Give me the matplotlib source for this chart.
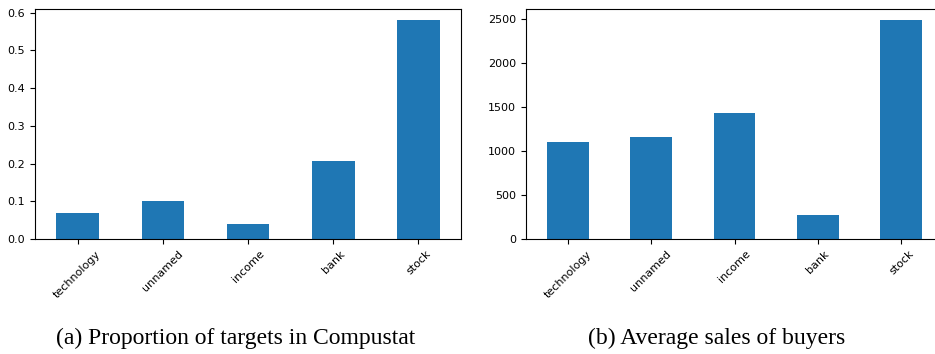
import matplotlib
matplotlib.use("Agg")
import numpy as np
import matplotlib.pyplot as plt

# Data
categories = ["technology", "unnamed", "income", "bank", "stock"]
target_share = [0.069, 0.101, 0.040, 0.207, 0.581]
buyer_sales = [1101, 1157, 1430, 272, 2485]

fig = plt.figure(figsize=(9.35, 3.54), dpi=100)

ax1 = fig.add_axes([35 / 935, 1 - 239 / 354, 426 / 935, 230 / 354])
ax2 = fig.add_axes([526 / 935, 1 - 239 / 354, 417 / 935, 230 / 354])

x = np.arange(len(categories))
for ax, vals in [(ax1, target_share), (ax2, buyer_sales)]:
    ax.bar(x, vals, width=0.5, color="#1f77b4")
    ax.set_xlim(-0.5, len(categories) - 0.5)
    ax.set_ylim(0, max(vals) * 1.05)
    ax.set_xticks(x)
    ax.set_xticklabels(categories, rotation=45, fontsize=8)
    ax.tick_params(axis="y", labelsize=8)

ax1.set_yticks([0, 0.1, 0.2, 0.3, 0.4, 0.5, 0.6])
ax1.set_yticklabels(["0.0", "0.1", "0.2", "0.3", "0.4", "0.5", "0.6"])
ax2.set_yticks([0, 500, 1000, 1500, 2000, 2500])

cap = dict(fontsize=17, family="Liberation Serif", ha="center", va="baseline")
fig.text(236 / 935, 1 - 344 / 354, "(a) Proportion of targets in Compustat", **cap)
fig.text(717 / 935, 1 - 344 / 354, "(b) Average sales of buyers", **cap)

fig.savefig("out.png", dpi=100)
